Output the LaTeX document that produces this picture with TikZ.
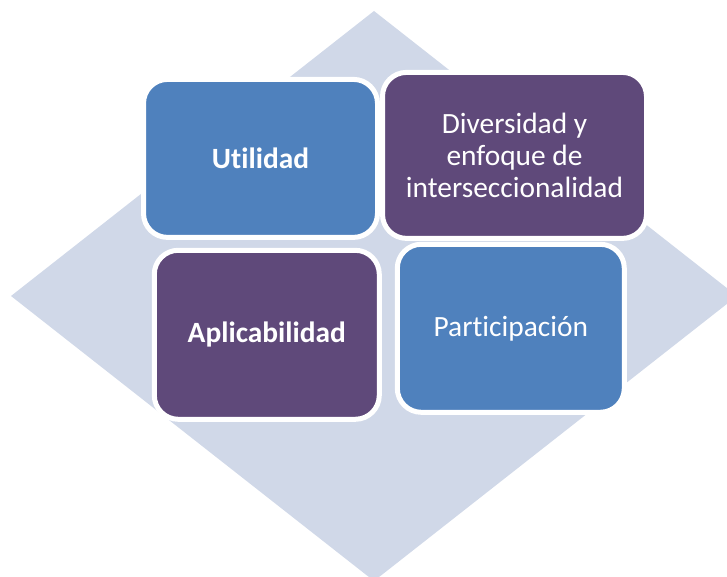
\documentclass[tikz,border=0pt]{standalone}
\usepackage{fontspec}
\setmainfont[Ligatures=NoCommon]{Carlito}
\usetikzlibrary{positioning}
\definecolor{rombo}{HTML}{D0D8E8}
\definecolor{azul}{HTML}{4F81BD}
\definecolor{morado}{HTML}{5F497A}
\tikzset{x=1pt,y=-1pt,
caja/.style={rectangle,draw=white,line width=5pt,rounded corners=24pt,
	inner sep=0pt,text=white,align=center,
	font=\fontsize{29.4}{32}\selectfont},
az/.style={caja,fill=azul},
mo/.style={caja,fill=morado},
}
\begin{document}
\begin{tikzpicture}

	\useasboundingbox (0,0) rectangle (727,577);
	\clip (0,0) rectangle (727,577);
	\fill[rombo] (374,11) -- (737,296) -- (374,581) -- (11,296) -- cycle;

	\node[az,minimum width=234pt,minimum height=158pt] (util) at (260.5,158.4) {\textbf{Utilidad}};
	\node[mo,minimum width=264pt,minimum height=166pt] (div) at (514.5,155.4) {Diversidad y\\enfoque de\\interseccionalidad};
	\node[mo,minimum width=225pt,minimum height=169pt] (apli) at (266.8,334.8) {\textbf{Aplicabilidad}};
	\node[az,minimum width=227pt,minimum height=168pt] (part) at (510.8,328.3) {Participación};

\end{tikzpicture}
\end{document}
